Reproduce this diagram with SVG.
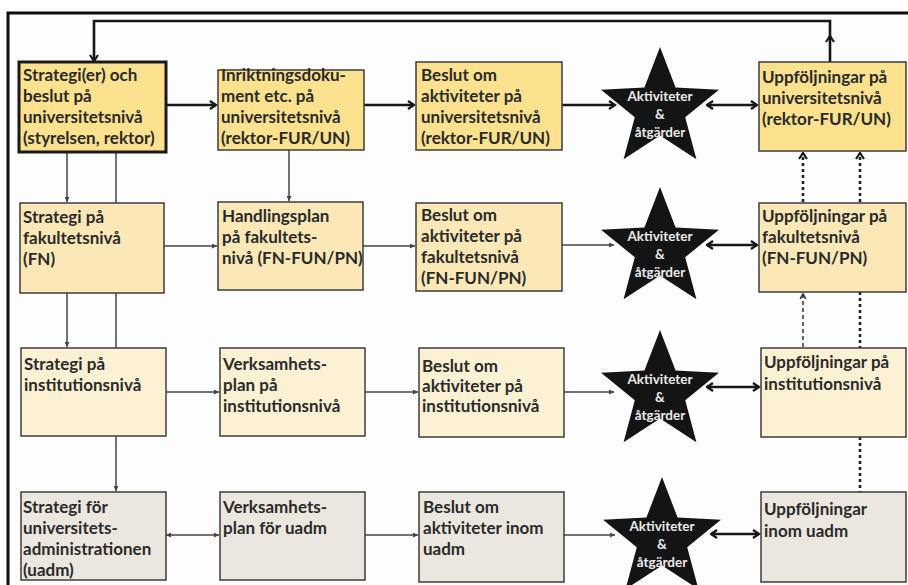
<svg xmlns="http://www.w3.org/2000/svg" xmlns:xlink="http://www.w3.org/1999/xlink" width="908" height="585" viewBox="0 0 908 585">
<style>
.t{font-family:Lato,"Open Sans","Liberation Sans",sans-serif;font-weight:700;font-size:17px;fill:#2a2a2a}
.s{font-family:Lato,"Open Sans","Liberation Sans",sans-serif;font-weight:700;font-size:13.5px;fill:#ececec;text-anchor:middle}
.b{stroke:#3c3c3c;stroke-width:1.5}
.r1{fill:#fce18f}.r2{fill:#fbe8b6}.r3{fill:#fdf1d4}.r4{fill:#ebe7df}
.thick{fill:none;stroke:#161616;stroke-width:2.6}
.thin{fill:none;stroke:#444;stroke-width:1.5}
.dot{fill:none;stroke:#222;stroke-width:2.6;stroke-dasharray:3 3}
.dash{fill:none;stroke:#333;stroke-width:1.5;stroke-dasharray:4 3}
.star{fill:#141414}
</style>
<defs>
<marker id="chev" viewBox="0 0 10 10" refX="8.5" refY="5" markerWidth="10" markerHeight="10" markerUnits="userSpaceOnUse" orient="auto-start-reverse">
<path d="M2.5,1 L8.5,5 L2.5,9" fill="none" stroke="#161616" stroke-width="2.2"/>
</marker>
<marker id="tri" viewBox="0 0 6 6" refX="6" refY="3" markerWidth="5" markerHeight="5" markerUnits="userSpaceOnUse" orient="auto-start-reverse">
<path d="M0,0 L6,3 L0,6 z" fill="#444"/>
</marker>
<marker id="schev" viewBox="0 0 10 10" refX="8.5" refY="5" markerWidth="8" markerHeight="8" markerUnits="userSpaceOnUse" orient="auto">
<path d="M2.5,1.5 L8.5,5 L2.5,8.5" fill="none" stroke="#333" stroke-width="2"/>
</marker>
<polygon id="starshape" points="0,-62 15.58,-21.44 58.97,-19.16 25.2,8.19 36.44,50.16 0,26.5 -36.44,50.16 -25.2,8.19 -58.97,-19.16 -15.58,-21.44"/>
</defs>
<rect x="0" y="0" width="908" height="585" fill="#ffffff"/>
<rect x="8" y="13" width="930" height="620" fill="#fdfdfd" stroke="#0d0d0d" stroke-width="3"/>

<g id="connectors">
<path class="thick" d="M166,105 L216,105" marker-end="url(#chev)"/>
<path class="thick" d="M364,105 L414,105" marker-end="url(#chev)"/>
<path class="thick" d="M562,105 L615,105" marker-end="url(#chev)"/>
<path class="thick" d="M707,105 L757,105" marker-start="url(#chev)" marker-end="url(#chev)"/>
<path class="thick" d="M830,62 L830,36" marker-end="url(#chev)"/>
<path class="thick" d="M830,37 L830,21 L94,21 L94,61" marker-end="url(#chev)"/>
<path class="thin" d="M67,152 L67,202" marker-end="url(#tri)"/>
<path class="thin" d="M116,152 L116,203"/>
<path class="thin" d="M289,150 L289,201" marker-end="url(#tri)"/>
<path class="thin" d="M67,293 L67,347" marker-end="url(#tri)"/>
<path class="thin" d="M116,293 L116,348"/>
<path class="thin" d="M116,436 L116,491" marker-end="url(#tri)"/>
<path class="thin" d="M164,246 L217,246" marker-end="url(#tri)"/>
<path class="thin" d="M363,246 L415,246" marker-end="url(#tri)"/>
<path class="thin" d="M562,245 L614,245" marker-end="url(#tri)"/>
<path class="thick" d="M707,245 L757,245" marker-start="url(#chev)" marker-end="url(#chev)"/>
<path class="thin" d="M166,392 L219,392" marker-end="url(#tri)"/>
<path class="thin" d="M365,392 L418,392" marker-end="url(#tri)"/>
<path class="thin" d="M564,392 L614,392" marker-end="url(#tri)"/>
<path class="thick" d="M707,387 L759,387" marker-start="url(#chev)" marker-end="url(#chev)"/>
<path class="thin" d="M166,535 L219,535" marker-start="url(#tri)" marker-end="url(#tri)"/>
<path class="thin" d="M365,535 L418,535" marker-end="url(#tri)"/>
<path class="thin" d="M564,535 L615,535" marker-end="url(#tri)"/>
<path class="thick" d="M711,534 L759,534" marker-start="url(#chev)" marker-end="url(#chev)"/>
<path class="dot" d="M803,202 L803,153" marker-end="url(#chev)"/>
<path class="dot" d="M860,202 L860,153" marker-end="url(#chev)"/>
<path class="dash" d="M803,347 L803,294" marker-end="url(#schev)"/>
<path class="dot" d="M860,292 L860,348"/>
<path class="dot" d="M860,437 L860,492"/>
</g>

<g id="n_strat_univ">
<rect x="19" y="62" width="147" height="90" class="r1" stroke="#1a1a1a" stroke-width="3"/>
<text class="t" x="23" y="81"><tspan x="23">Strategi(er) och</tspan><tspan x="23" dy="21">beslut på</tspan><tspan x="23" dy="21">universitetsnivå</tspan><tspan x="23" dy="21">(styrelsen, rektor)</tspan></text>
</g>
<g id="n_inr_univ">
<rect x="218" y="70" width="146" height="80" class="r1 b"/>
<text class="t" x="221" y="81"><tspan x="221">Inriktningsdoku-</tspan><tspan x="221" dy="21">ment etc. på</tspan><tspan x="221" dy="21">universitetsnivå</tspan><tspan x="221" dy="21">(rektor-FUR/UN)</tspan></text>
</g>
<g id="n_besl_univ">
<rect x="416" y="62" width="146" height="88" class="r1 b"/>
<text class="t" x="421" y="81"><tspan x="421">Beslut om</tspan><tspan x="421" dy="21">aktiviteter på</tspan><tspan x="421" dy="21">universitetsnivå</tspan><tspan x="421" dy="21">(rektor-FUR/UN)</tspan></text>
</g>
<g id="n_akt_univ">
<use xlink:href="#starshape" class="star" transform="translate(660,109)"/>
<text class="s" x="660" y="101"><tspan x="660">Aktiviteter</tspan><tspan x="660" dy="18">&amp;</tspan><tspan x="660" dy="18">åtgärder</tspan></text>
</g>
<g id="n_uppf_univ">
<rect x="759" y="62" width="147" height="89" class="r1 b"/>
<text class="t" x="762" y="83"><tspan x="762">Uppföljningar på</tspan><tspan x="762" dy="21">universitetsnivå</tspan><tspan x="762" dy="21">(rektor-FUR/UN)</tspan></text>
</g>

<g id="n_strat_fak">
<rect x="20" y="203" width="144" height="90" class="r2 b"/>
<text class="t" x="23" y="223"><tspan x="23">Strategi på</tspan><tspan x="23" dy="21">fakultetsnivå</tspan><tspan x="23" dy="21">(FN)</tspan></text>
</g>
<g id="n_hand_fak">
<rect x="218" y="202" width="145" height="88" class="r2 b"/>
<text class="t" x="222" y="222"><tspan x="222">Handlingsplan</tspan><tspan x="222" dy="21">på fakultets-</tspan><tspan x="222" dy="21">nivå (FN-FUN/PN)</tspan></text>
</g>
<g id="n_besl_fak">
<rect x="416" y="203" width="146" height="88" class="r2 b"/>
<text class="t" x="421" y="221"><tspan x="421">Beslut om</tspan><tspan x="421" dy="21">aktiviteter på</tspan><tspan x="421" dy="21">fakultetsnivå</tspan><tspan x="421" dy="21">(FN-FUN/PN)</tspan></text>
</g>
<g id="n_akt_fak">
<use xlink:href="#starshape" class="star" transform="translate(660,249)"/>
<text class="s" x="660" y="241"><tspan x="660">Aktiviteter</tspan><tspan x="660" dy="18">&amp;</tspan><tspan x="660" dy="18">åtgärder</tspan></text>
</g>
<g id="n_uppf_fak">
<rect x="759" y="203" width="147" height="89" class="r2 b"/>
<text class="t" x="762" y="222"><tspan x="762">Uppföljningar på</tspan><tspan x="762" dy="21">fakultetsnivå</tspan><tspan x="762" dy="21">(FN-FUN/PN)</tspan></text>
</g>

<g id="n_strat_inst">
<rect x="21" y="348" width="145" height="88" class="r3 b"/>
<text class="t" x="24" y="370"><tspan x="24">Strategi på</tspan><tspan x="24" dy="21">institutionsnivå</tspan></text>
</g>
<g id="n_verk_inst">
<rect x="220" y="348" width="145" height="88" class="r3 b"/>
<text class="t" x="223" y="370"><tspan x="223">Verksamhets-</tspan><tspan x="223" dy="21">plan på</tspan><tspan x="223" dy="21">institutionsnivå</tspan></text>
</g>
<g id="n_besl_inst">
<rect x="419" y="348" width="145" height="89" class="r3 b"/>
<text class="t" x="422" y="372"><tspan x="422">Beslut om</tspan><tspan x="422" dy="20">aktiviteter på</tspan><tspan x="422" dy="20">institutionsnivå</tspan></text>
</g>
<g id="n_akt_inst">
<use xlink:href="#starshape" class="star" transform="translate(660,392)"/>
<text class="s" x="660" y="384"><tspan x="660">Aktiviteter</tspan><tspan x="660" dy="18">&amp;</tspan><tspan x="660" dy="18">åtgärder</tspan></text>
</g>
<g id="n_uppf_inst">
<rect x="761" y="348" width="145" height="89" class="r3 b"/>
<text class="t" x="764" y="368"><tspan x="764">Uppföljningar på</tspan><tspan x="764" dy="22">institutionsnivå</tspan></text>
</g>

<g id="n_strat_uadm">
<rect x="21" y="492" width="145" height="88" class="r4 b"/>
<text class="t" x="23" y="513"><tspan x="23">Strategi för</tspan><tspan x="23" dy="21">universitets-</tspan><tspan x="23" dy="21">administrationen</tspan><tspan x="23" dy="21">(uadm)</tspan></text>
</g>
<g id="n_verk_uadm">
<rect x="220" y="492" width="145" height="88" class="r4 b"/>
<text class="t" x="223" y="513"><tspan x="223">Verksamhets-</tspan><tspan x="223" dy="21">plan för uadm</tspan></text>
</g>
<g id="n_besl_uadm">
<rect x="419" y="492" width="145" height="90" class="r4 b"/>
<text class="t" x="423" y="513"><tspan x="423">Beslut om</tspan><tspan x="423" dy="21">aktiviteter inom</tspan><tspan x="423" dy="21">uadm</tspan></text>
</g>
<g id="n_akt_uadm">
<use xlink:href="#starshape" class="star" transform="translate(662,539)"/>
<text class="s" x="662" y="531"><tspan x="662">Aktiviteter</tspan><tspan x="662" dy="18">&amp;</tspan><tspan x="662" dy="18">åtgärder</tspan></text>
</g>
<g id="n_uppf_uadm">
<rect x="761" y="492" width="145" height="90" class="r4 b"/>
<text class="t" x="764" y="515"><tspan x="764">Uppföljningar</tspan><tspan x="764" dy="22">inom uadm</tspan></text>
</g>
</svg>
